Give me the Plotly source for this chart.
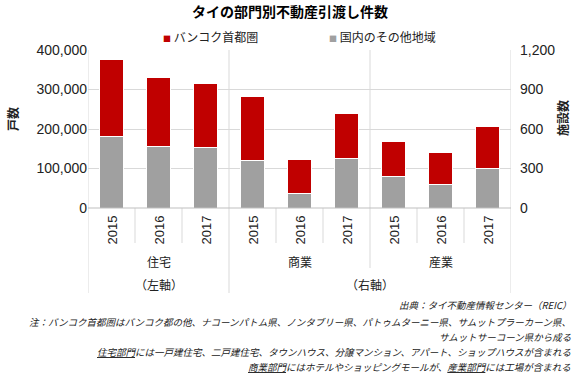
import plotly.graph_objects as go

# ---- data ----
years = ["2015", "2016", "2017"]
sectors = ["住宅", "商業", "産業"]
axis_notes = ["（左軸）", "（右軸）"]
series_names = ["バンコク首都圏", "国内のその他地域"]

# residential (left axis, units)
res_bangkok = [196000, 175000, 163000]
res_other = [180000, 155000, 152000]
# commercial + industrial (right axis, facilities)
com_bangkok = [487, 262, 339]
com_other = [360, 110, 377]
ind_bangkok = [268, 246, 319]
ind_other = [238, 177, 301]

left_ticks = [0, 100000, 200000, 300000, 400000]
right_ticks = [0, 300, 600, 900, 1200]

RED = "#C00000"
GRAY = "#A0A0A0"
LINE = "#D9D9D9"
FONT = "Liberation Sans, Arial, Noto Sans CJK JP, sans-serif"
JFONT = "Noto Sans CJK JP, sans-serif"

nyear = len(years)
x_res = list(range(0, nyear))
x_oth = list(range(nyear, 3 * nyear))
oth_bangkok = com_bangkok + ind_bangkok
oth_other = com_other + ind_other

fig = go.Figure()
bar_kw = dict(width=0.52, marker_line_color="white", marker_line_width=1,
              showlegend=False, hoverinfo="skip")
fig.add_trace(go.Bar(x=x_res, y=res_other, name=series_names[1],
                     marker_color=GRAY, yaxis="y", **bar_kw))
fig.add_trace(go.Bar(x=x_res, y=res_bangkok, name=series_names[0],
                     marker_color=RED, yaxis="y", **bar_kw))
fig.add_trace(go.Bar(x=x_oth, y=oth_other, name=series_names[1],
                     marker_color=GRAY, yaxis="y2", **bar_kw))
fig.add_trace(go.Bar(x=x_oth, y=oth_bangkok, name=series_names[0],
                     marker_color=RED, yaxis="y2", **bar_kw))

W, H = 580, 378
L, R, T, B = 88, 69, 50, 170
pw, ph = W - L - R, H - T - B


def px_y(Y):
    return (H - B - Y) / ph


def px_x(X):
    return (X - L) / pw


fig.update_layout(
    width=W, height=H, barmode="stack",
    margin=dict(l=L, r=R, t=T, b=B, autoexpand=False),
    paper_bgcolor="white", plot_bgcolor="white",
    font=dict(family=FONT, size=13, color="#222222"),
    title=dict(text="<b>タイの部門別不動産引渡し件数</b>", x=0.5, xanchor="center",
               y=1 - 12 / H, yanchor="middle",
               font=dict(family=JFONT, size=14, color="#000000")),
    xaxis=dict(range=[-0.5, 3 * nyear - 0.5], showticklabels=False,
               showgrid=False, zeroline=False, showline=False, fixedrange=True,
               automargin=False),
    yaxis=dict(range=[0, 400000], tickvals=left_ticks, tickformat=",d",
               showgrid=True, gridcolor=LINE, gridwidth=1, zeroline=False,
               ticks="", automargin=False,
               tickfont=dict(family=FONT, size=14, color="#222222")),
    yaxis2=dict(range=[0, 1200], tickvals=right_ticks, tickformat=",d",
                overlaying="y", side="right", showgrid=False, zeroline=False,
                ticks="", ticklabelstandoff=8, automargin=False,
                tickfont=dict(family=FONT, size=14, color="#222222")),
)

shapes = []


def vline(x, y0, y1):
    shapes.append(dict(type="line", xref="x", yref="paper", x0=x, x1=x,
                       y0=y0, y1=y1, line=dict(color=LINE, width=1)))


bottom3 = px_y(293)
bottom2 = px_y(268)
bottom1 = px_y(243)
vline(-0.5, 1, bottom3)
vline(3 * nyear - 0.5, 1, bottom3)
vline(nyear - 0.5, 1, bottom3)
vline(2 * nyear - 0.5, 1, bottom2)
for g in range(3):
    for k in range(1, nyear):
        vline(g * nyear + k - 0.5, 0, bottom1)
# category axis base line
shapes.append(dict(type="line", xref="paper", yref="paper", x0=0, x1=1,
                   y0=0, y1=0, line=dict(color="#BFBFBF", width=1)))

ann = []


def add_ann(**kw):
    kw.setdefault("xanchor", "center")
    kw.setdefault("yanchor", "middle")
    kw.setdefault("showarrow", False)
    ann.append(kw)


for g in range(3):
    for k, yr in enumerate(years):
        add_ann(x=g * nyear + k, y=px_y(230), xref="x", yref="paper",
                text=yr, textangle=-90,
                font=dict(family=FONT, size=13, color="#222222"))
    add_ann(x=g * nyear + (nyear - 1) / 2, y=px_y(261), xref="x",
            yref="paper", text=sectors[g],
            font=dict(family=JFONT, size=12, color="#222222"))
add_ann(x=(nyear - 1) / 2, y=px_y(284), xref="x", yref="paper",
        text=axis_notes[0], font=dict(family=JFONT, size=12, color="#222222"))
add_ann(x=nyear + nyear - 0.5, y=px_y(284), xref="x", yref="paper",
        text=axis_notes[1], font=dict(family=JFONT, size=12, color="#222222"))

# legend (as text)
add_ann(x=px_x(161), y=px_y(36), xref="paper", yref="paper", xanchor="left",
        text=f'<span style="color:{RED};font-size:8px">■</span> {series_names[0]}',
        font=dict(family=JFONT, size=12, color="#222222"))
add_ann(x=px_x(327), y=px_y(36), xref="paper", yref="paper", xanchor="left",
        text=f'<span style="color:{GRAY};font-size:8px">■</span> {series_names[1]}',
        font=dict(family=JFONT, size=12, color="#222222"))

# axis titles
add_ann(x=px_x(12), y=px_y(119), xref="paper", yref="paper",
        text="<b>戸数</b>", textangle=-90,
        font=dict(family=JFONT, size=12, color="#222222"))
add_ann(x=px_x(562), y=px_y(118), xref="paper", yref="paper",
        text="<b>施設数</b>", textangle=-90,
        font=dict(family=JFONT, size=12, color="#222222"))

notes = [
    (305, "出典：タイ不動産情報センター（REIC）"),
    (321.5, "注：バンコク首都圏はバンコク都の他、ナコーンパトム県、ノンタブリー県、パトゥムターニー県、サムットプラーカーン県、"),
    (336.5, "サムットサーコーン県から成る"),
    (351.5, "<u>住宅部門</u>には一戸建住宅、二戸建住宅、タウンハウス、分譲マンション、アパート、ショップハウスが含まれる"),
    (366.5, "<u>商業部門</u>にはホテルやショッピングモールが、<u>産業部門</u>には工場が含まれる"),
]
for yy, txt in notes:
    add_ann(x=px_x(573), y=px_y(yy), xref="paper", yref="paper",
            xanchor="right", text=f"<i>{txt}</i>",
            font=dict(family=JFONT, size=9.5, color="#222222"))

fig.update_layout(shapes=shapes, annotations=ann)
fig.write_html("out.html",
               config={"displayModeBar": False},
               post_script="document.body.style.margin='0';"
                           "document.body.style.overflow='hidden';")
